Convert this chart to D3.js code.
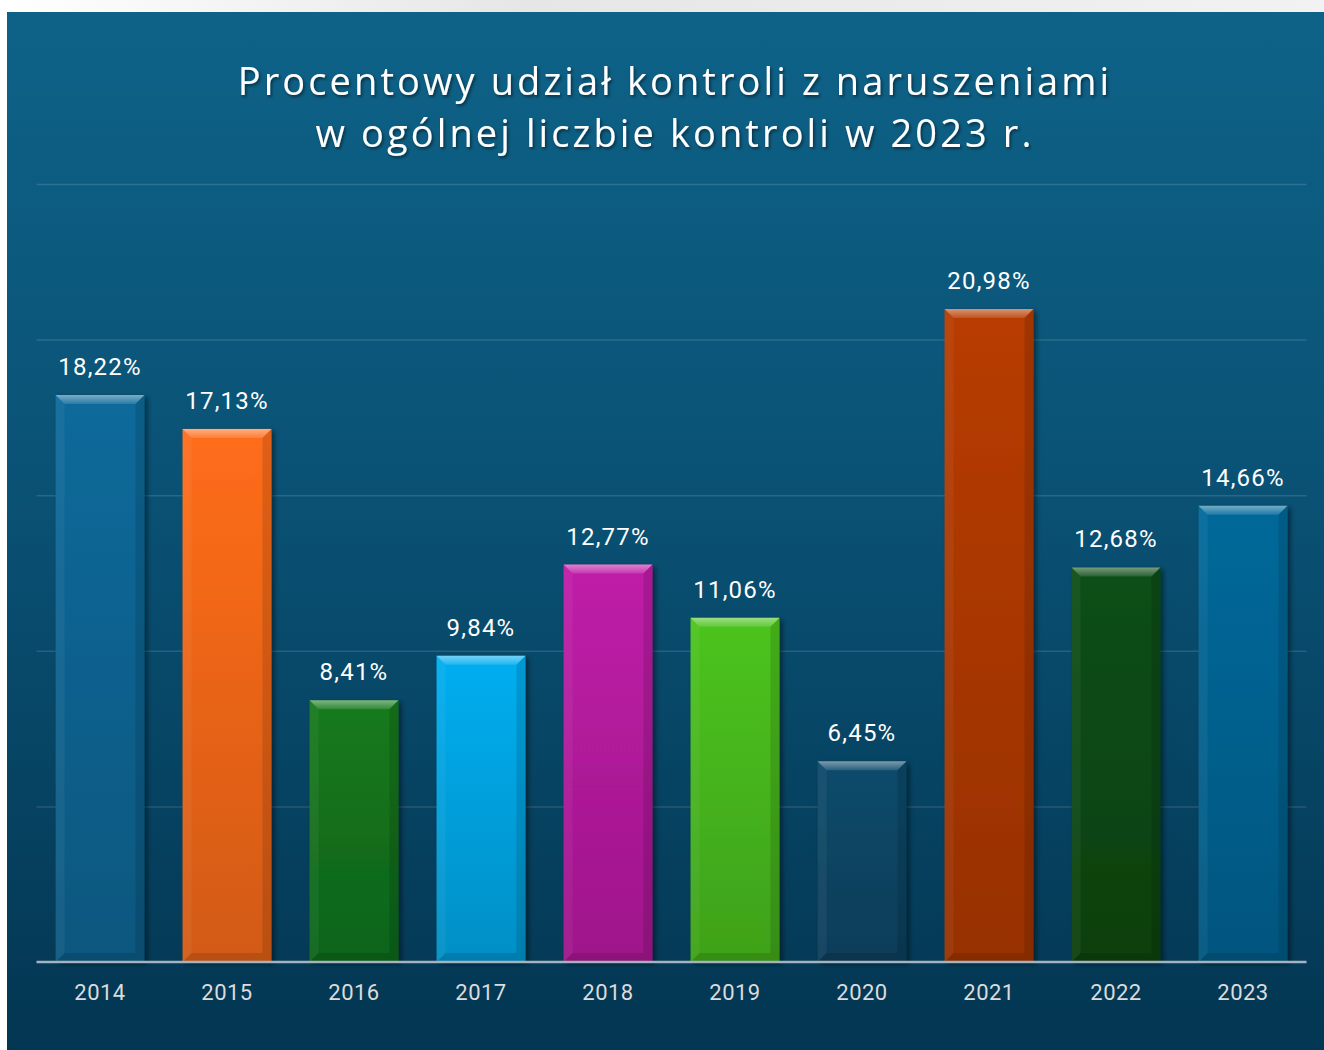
<!DOCTYPE html>
<html lang="pl">
<head>
<meta charset="utf-8">
<title>Procentowy udział kontroli z naruszeniami</title>
<script src="https://cdn.jsdelivr.net/npm/d3@7/dist/d3.min.js"></script>
<style>
  html, body { margin: 0; padding: 0; background: #ffffff; }
  svg { display: block; }
</style>
</head>
<body>
<svg id="chart" width="1324" height="1050"></svg>
<script>
// Data
const years = ["2014", "2015", "2016", "2017", "2018", "2019", "2020", "2021", "2022", "2023"];
const shares = [18.22, 17.13, 8.41, 9.84, 12.77, 11.06, 6.45, 20.98, 12.68, 14.66];
const barColors = ["#086a9b", "#ff6d1a", "#137a1f", "#04aef0", "#c01ca8", "#4cc41f", "#0a4a6b", "#b83c05", "#0c4e14", "#05699a"];
const yTicks = [0, 5, 10, 15, 20, 25];
const titleLines = ["Procentowy udział kontroli z naruszeniami", "w ogólnej liczbie kontroli w 2023 r."];

const W = 1324, H = 1050;
const panel = { x: 7, y: 12, w: W - 7, h: H - 12 };
const plot = { left: 36.5, right: 1306.5, top: 184, bottom: 962 };

const svg = d3.select("#chart");
const defs = svg.append("defs");

// top strip of the page
const strip = defs.append("linearGradient").attr("id", "strip").attr("x1", 0).attr("x2", 1).attr("y1", 0).attr("y2", 0);
strip.append("stop").attr("offset", "0%").attr("stop-color", "#ffffff");
strip.append("stop").attr("offset", "40%").attr("stop-color", "#e6e6e6");
strip.append("stop").attr("offset", "100%").attr("stop-color", "#f2f2f2");
svg.append("rect").attr("x", 0).attr("y", 0).attr("width", W).attr("height", panel.y).attr("fill", "url(#strip)");

// panel background
const bg = defs.append("linearGradient").attr("id", "bg").attr("x1", 0).attr("x2", 0).attr("y1", 0).attr("y2", 1);
bg.append("stop").attr("offset", "0%").attr("stop-color", "#0e6288");
bg.append("stop").attr("offset", "45%").attr("stop-color", "#0a5275");
bg.append("stop").attr("offset", "100%").attr("stop-color", "#033652");
svg.append("rect").attr("x", panel.x).attr("y", panel.y).attr("width", panel.w).attr("height", panel.h).attr("fill", "url(#bg)");

// filters
const shadow = defs.append("filter").attr("id", "barShadow").attr("x", "-20%").attr("y", "-10%").attr("width", "140%").attr("height", "120%");
shadow.append("feDropShadow").attr("dx", 3).attr("dy", 2).attr("stdDeviation", 2.5).attr("flood-color", "#000").attr("flood-opacity", 0.45);

const textShadow = defs.append("filter").attr("id", "textShadow").attr("x", "-10%").attr("y", "-30%").attr("width", "120%").attr("height", "160%");
textShadow.append("feDropShadow").attr("dx", 1.5).attr("dy", 2).attr("stdDeviation", 1.5).attr("flood-color", "#000").attr("flood-opacity", 0.5);

// scales
const x = d3.scaleBand().domain(years).range([plot.left, plot.right]).paddingInner(0.3).paddingOuter(0.15);
const y = d3.scaleLinear().domain([0, 25]).range([plot.bottom, plot.top]);

// gridlines
const grid = svg.append("g").attr("class", "grid")
  .call(d3.axisLeft(y).tickValues(yTicks.filter(t => t > 0)).tickSize(-(plot.right - plot.left)).tickFormat(""))
  .attr("transform", `translate(${plot.left},0)`);
grid.select(".domain").remove();
grid.selectAll("line").attr("stroke", "#ffffff").attr("stroke-opacity", 0.13).attr("stroke-width", 1.5);

// bar gradients
barColors.forEach((c, i) => {
  const g = defs.append("linearGradient").attr("id", "bar" + i).attr("x1", 0).attr("x2", 0).attr("y1", 0).attr("y2", 1);
  g.append("stop").attr("offset", "0%").attr("stop-color", c);
  g.append("stop").attr("offset", "100%").attr("stop-color", d3.color(c).darker(0.55));
});

// soft highlight for the lit top face
const topLight = defs.append("linearGradient").attr("id", "topLight").attr("x1", 0).attr("x2", 0).attr("y1", 0).attr("y2", 1);
topLight.append("stop").attr("offset", "0%").attr("stop-color", "#ffffff").attr("stop-opacity", 0.45);
topLight.append("stop").attr("offset", "100%").attr("stop-color", "#ffffff").attr("stop-opacity", 0.12);

const data = years.map((yr, i) => ({ year: yr, value: shares[i], i }));
const bev = 9;

const bars = svg.append("g").attr("class", "bars").selectAll("g").data(data).join("g");

bars.append("rect")
  .attr("x", d => x(d.year))
  .attr("y", d => y(d.value))
  .attr("width", x.bandwidth())
  .attr("height", d => y(0) - y(d.value))
  .attr("fill", d => `url(#bar${d.i})`)
  .attr("filter", "url(#barShadow)");

// bevel: lit top face
bars.append("path")
  .attr("d", d => {
    const x0 = x(d.year), x1 = x0 + x.bandwidth(), t = y(d.value);
    return `M${x0},${t}L${x1},${t}L${x1 - bev},${t + bev}L${x0 + bev},${t + bev}Z`;
  })
  .attr("fill", "url(#topLight)");

// bevel: left side
bars.append("path")
  .attr("d", d => {
    const x0 = x(d.year), t = y(d.value), b = y(0);
    return `M${x0},${t}L${x0 + bev},${t + bev}L${x0 + bev},${b - bev}L${x0},${b}Z`;
  })
  .attr("fill", "#ffffff")
  .attr("opacity", 0.05);

// bevel: right side
bars.append("path")
  .attr("d", d => {
    const x1 = x(d.year) + x.bandwidth(), t = y(d.value), b = y(0);
    return `M${x1},${t}L${x1 - bev},${t + bev}L${x1 - bev},${b - bev}L${x1},${b}Z`;
  })
  .attr("fill", "#000")
  .attr("opacity", 0.12);

// bevel: bottom
bars.append("path")
  .attr("d", d => {
    const x0 = x(d.year), x1 = x0 + x.bandwidth(), b = y(0);
    return `M${x0},${b}L${x0 + bev},${b - bev}L${x1 - bev},${b - bev}L${x1},${b}Z`;
  })
  .attr("fill", "#000")
  .attr("opacity", 0.12);

// value labels
bars.append("text")
  .attr("x", d => x(d.year) + x.bandwidth() / 2)
  .attr("y", d => y(d.value) - 20)
  .attr("text-anchor", "middle")
  .attr("font-family", "Roboto, 'Noto Sans', sans-serif")
  .attr("font-size", 24)
  .attr("letter-spacing", 1.2)
  .attr("fill", "#ffffff")
  .text(d => d.value.toFixed(2).replace(".", ",") + "%");

// x axis
const xAxis = svg.append("g").attr("class", "x-axis")
  .attr("transform", `translate(0,${plot.bottom})`)
  .call(d3.axisBottom(x).tickSize(0).tickPadding(22));
xAxis.select(".domain").remove();
xAxis.selectAll("text")
  .attr("font-family", "Roboto, 'Noto Sans', sans-serif")
  .attr("font-size", 22)
  .attr("letter-spacing", 0.5)
  .attr("fill", "#dcdcdc");

svg.append("line")
  .attr("x1", plot.left).attr("x2", plot.right)
  .attr("y1", plot.bottom).attr("y2", plot.bottom)
  .attr("stroke", "#a3b4c0").attr("stroke-width", 2.5);

// title
svg.append("text")
  .attr("x", 675)
  .attr("text-anchor", "middle")
  .attr("font-family", "'Open Sans', 'Noto Sans', sans-serif")
  .attr("font-size", 38)
  .attr("letter-spacing", 3.1)
  .attr("fill", "#ffffff")
  .attr("filter", "url(#textShadow)")
  .selectAll("tspan").data(titleLines).join("tspan")
  .attr("x", 675)
  .attr("y", (d, i) => 95 + i * 52)
  .text(d => d);
</script>
</body>
</html>
